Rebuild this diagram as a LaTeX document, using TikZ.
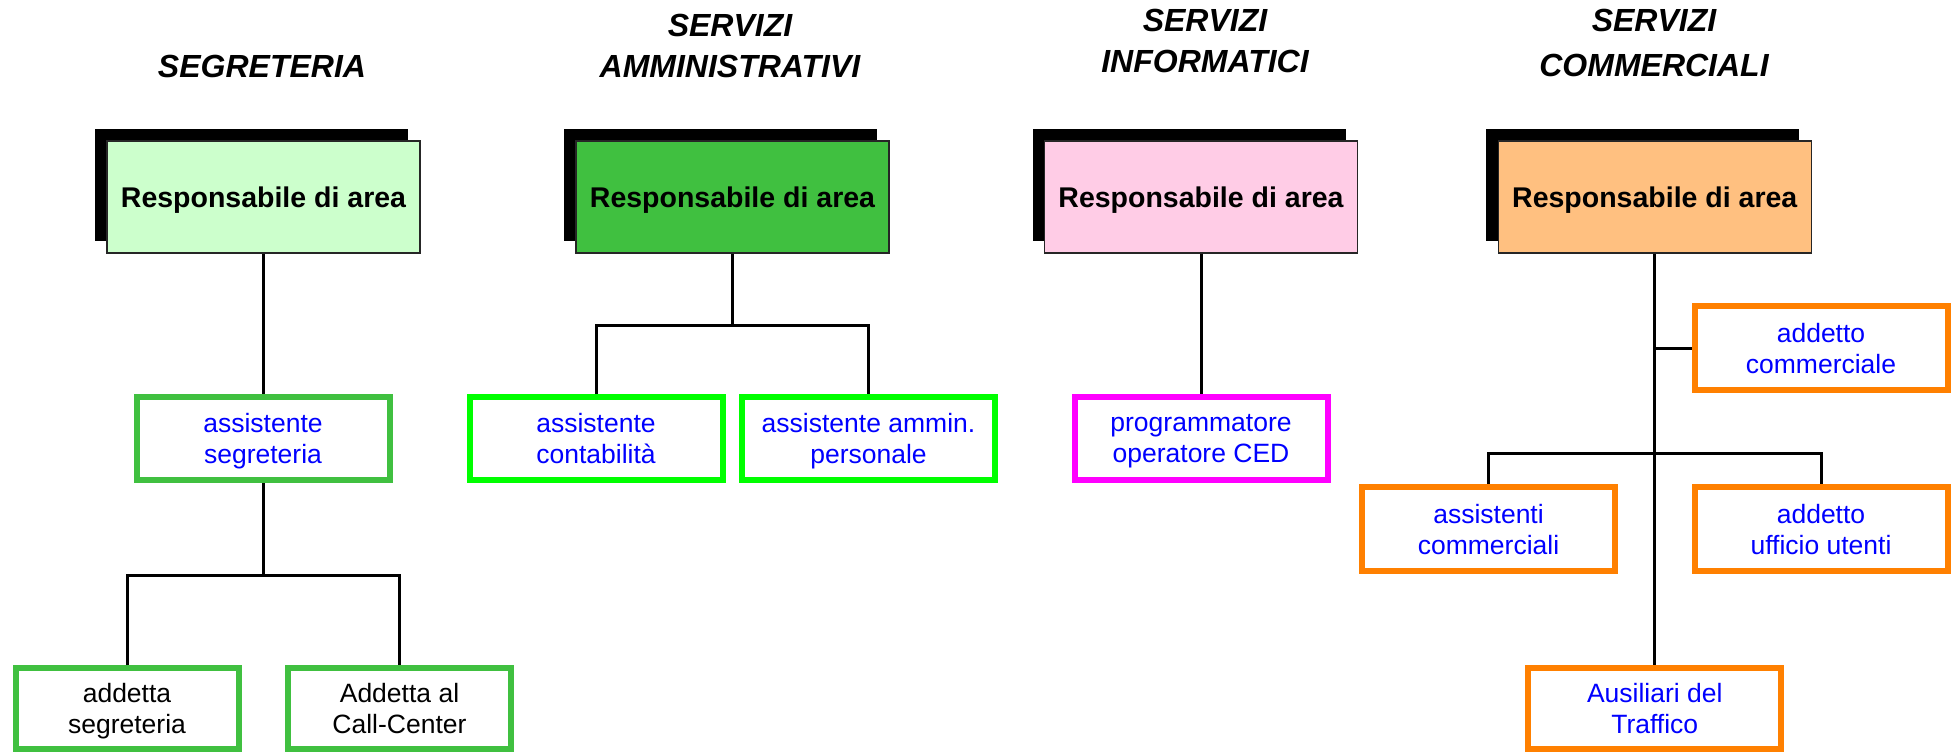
\documentclass[tikz,border=0pt]{standalone}
\usepackage{fontspec}
\setmainfont{Liberation Sans}
\usetikzlibrary{shadows}
\definecolor{lgreen}{RGB}{204,255,204}
\definecolor{mgreen}{RGB}{64,192,64}
\definecolor{lpink}{RGB}{255,204,230}
\definecolor{lorange}{RGB}{255,192,128}
\definecolor{bgreen}{RGB}{0,255,0}
\definecolor{magentab}{RGB}{255,0,255}
\definecolor{orangeb}{RGB}{255,128,0}
\definecolor{txtblue}{RGB}{0,0,255}
\begin{document}
\begin{tikzpicture}[x=1pt,y=-1pt,
  title/.style={align=center, font=\fontsize{32}{41}\selectfont\bfseries\itshape, anchor=base, inner sep=0pt},
  headbox/.style={draw=black!85, line width=1.2pt, inner sep=0pt, text depth=0pt,
    minimum width=313pt, minimum height=112pt,
    general shadow={fill=black, shadow xshift=-12pt, shadow yshift=12pt},
    font=\fontsize{28.5}{34}\selectfont\bfseries},
  childbox/.style={draw, line width=6pt, inner sep=0pt, align=center, text=txtblue, text depth=0pt,
    minimum width=253pt, minimum height=83pt,
    font=\fontsize{26.5}{31}\selectfont},
  smallbox/.style={childbox, text=black, minimum width=223pt, minimum height=81pt},
  link/.style={line width=3pt}
]
\useasboundingbox (0,0) rectangle (1957,754);

% ---------- SEGRETERIA ----------
\node[title] (tseg) at (262,78) {SEGRETERIA};
\node[headbox, fill=lgreen] (hseg) at (263.5,197) {Responsabile di area};
\node[childbox, draw=mgreen] (assseg) at (263,438.5) {assistente\\segreteria};
\node[smallbox, draw=mgreen] (addseg) at (127,708.5) {addetta\\segreteria};
\node[smallbox, draw=mgreen] (ccseg) at (399.5,708.5) {Addetta al\\Call-Center};
\coordinate (jseg) at (263,575);
\draw[link] (hseg.south -| assseg.north) -- (assseg.north);
\draw[link] (assseg.south) -- (jseg);
\draw[link] (addseg.north) |- (jseg) -| (ccseg.north);

% ---------- SERVIZI AMMINISTRATIVI ----------
\node[title] (tadm) at (730,78) {SERVIZI\\AMMINISTRATIVI};
\node[headbox, fill=mgreen] (hadm) at (732.5,197) {Responsabile di area};
\node[childbox, draw=bgreen] (asscont) at (596,438.5) {assistente\\contabilità};
\node[childbox, draw=bgreen] (assamm) at (868.5,438.5) {assistente ammin.\\personale};
\coordinate (jadm) at (732.5,325);
\draw[link] (hadm.south) -- (jadm);
\draw[link] (asscont.north) |- (jadm) -| (assamm.north);

% ---------- SERVIZI INFORMATICI ----------
\node[title] (tinf) at (1205,73) {SERVIZI\\INFORMATICI};
\node[headbox, fill=lpink] (hinf) at (1201,197) {Responsabile di area};
\node[childbox, draw=magentab] (prog) at (1201,438.5) {programmatore\\operatore CED};
\draw[link] (hinf.south) -- (prog.north);

% ---------- SERVIZI COMMERCIALI ----------
\node[title, font=\fontsize{32}{45}\selectfont\bfseries\itshape] (tcom) at (1654,77) {SERVIZI\\COMMERCIALI};
\node[headbox, fill=lorange] (hcom) at (1654.75,197) {Responsabile di area};
\node[childbox, draw=orangeb, minimum height=84pt] (addcomm) at (1821,348) {addetto\\commerciale};
\node[childbox, draw=orangeb, minimum height=84pt] (asscomm) at (1488.5,529) {assistenti\\commerciali};
\node[childbox, draw=orangeb, minimum height=84pt] (adduff) at (1821,529) {addetto\\ufficio utenti};
\node[childbox, draw=orangeb, minimum height=81pt] (aus) at (1654.75,708.5) {Ausiliari del\\Traffico};
\coordinate (jcom) at (1654.75,453);
\draw[link] (hcom.south) -- (aus.north);
\draw[link] (hcom.south |- addcomm.west) -- (addcomm.west);
\draw[link] (asscomm.north) |- (jcom) -| (adduff.north);
\end{tikzpicture}
\end{document}
